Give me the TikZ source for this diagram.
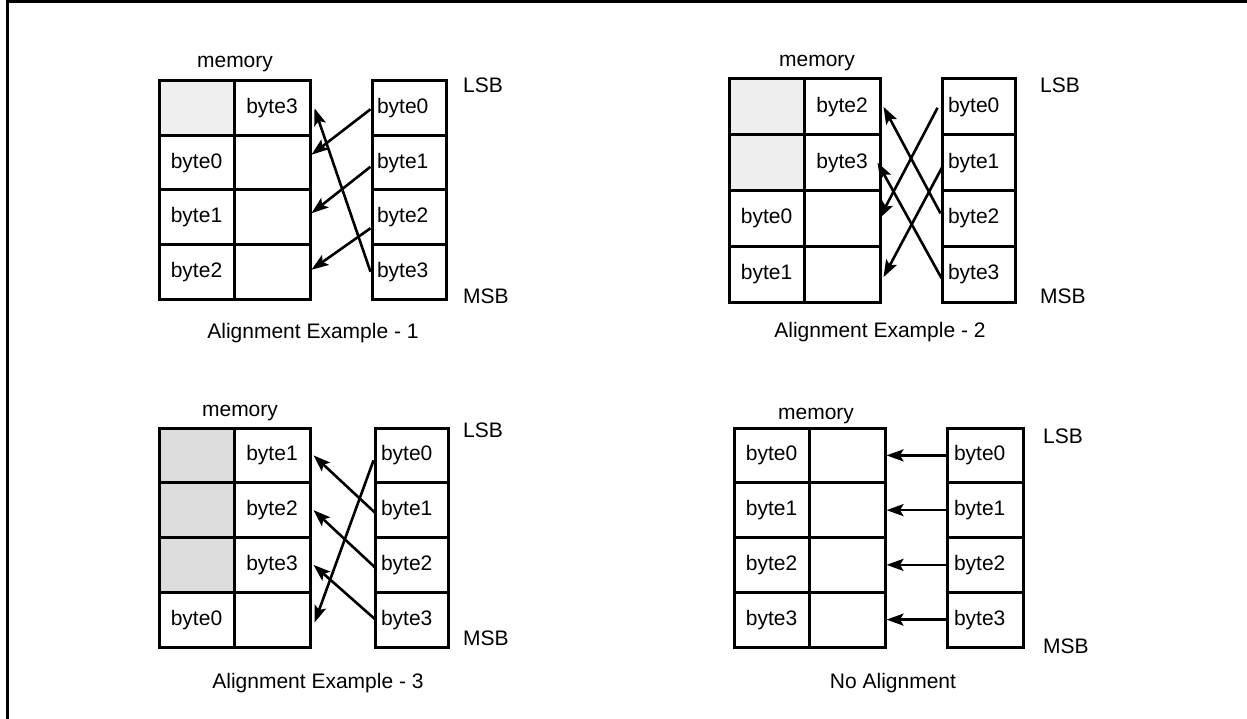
\documentclass[tikz,border=0pt]{standalone}
\usepackage{fontspec}
\setmainfont{Liberation Sans}
\usetikzlibrary{arrows.meta}
\definecolor{shadeA}{HTML}{EFEFEF}
\definecolor{shadeB}{HTML}{EEEEEE}
\definecolor{shadeC}{HTML}{DCDCDC}
\newcommand\fsz{\fontsize{21}{24}\selectfont}
\tikzset{
  cell/.style={draw=black, line width=3pt, inner sep=0pt, font=\fsz},
  rcell/.style={cell, align=left},
  arr/.style={line width=2.6pt, -{Stealth[length=17pt,width=12pt,inset=3.5pt]}},
  lbl/.style={inner sep=0pt, font=\fsz, anchor=base},
  side/.style={inner sep=0pt, font=\fsz, anchor=base west},
  frame/.style={line width=3pt}
}
\begin{document}
\begin{tikzpicture}[x=1pt,y=-1pt]
\useasboundingbox (0,0) rectangle (1247,719);
\draw[frame] (1247,2) -- (7,2) -- (7,719);

% ---------- Quadrant 1 ----------
\foreach \i/\a/\b/\c/\f in {0//byte3/byte0/shadeA,1/byte0//byte1/white,2/byte1//byte2/white,3/byte2//byte3/white}{
  \node[cell, fill=\f, minimum width=75pt, minimum height=54.5pt] (q1a\i) at (196.5,{81+54.5*\i+27.25}) {\a};
  \node[cell, minimum width=76pt, minimum height=54.5pt] (q1b\i) at (272,{81+54.5*\i+27.25}) {\b};
  \node[rcell, text width=64pt, minimum width=74pt, minimum height=54.5pt] (q1r\i) at (409,{81+54.5*\i+27.25}) {\c};
}
\node[lbl] (q1mem) at (235,68) {memory};
\node[side] (q1lsb) at (463,93) {LSB};
\node[side] (q1msb) at (463,303) {MSB};
\node[lbl] (q1cap) at (313,338) {Alignment Example - 1};
\draw[arr] ([yshift=-1pt]q1r0.west) -- ([yshift=8pt]q1b1.east);
\draw[arr] ([yshift=-4pt]q1r1.west) -- ([yshift=4pt]q1b2.east);
\draw[arr] ([yshift=-11pt]q1r2.west) -- ([yshift=2pt]q1b3.east);
\draw[arr] (q1r3.west) -- ([xshift=3pt]q1b0.east);

% ---------- Quadrant 2 ----------
\foreach \i/\a/\b/\c/\f in {0//byte2/byte0/shadeB,1//byte3/byte1/shadeB,2/byte0//byte2/white,3/byte1//byte3/white}{
  \node[cell, fill=\f, minimum width=75pt, minimum height=55.75pt] (q2a\i) at (766.5,{79+55.75*\i+27.875}) {\a};
  \node[cell, minimum width=76pt, minimum height=55.75pt] (q2b\i) at (842,{79+55.75*\i+27.875}) {\b};
  \node[rcell, text width=61pt, minimum width=73pt, minimum height=55.75pt] (q2r\i) at (978.5,{79+55.75*\i+27.875}) {\c};
}
\node[lbl] (q2mem) at (817,67) {memory};
\node[side] (q2lsb) at (1040,93) {LSB};
\node[side] (q2msb) at (1040,303) {MSB};
\node[lbl] (q2cap) at (880,337) {Alignment Example - 2};
\draw[arr] ([xshift=-3pt,yshift=-1pt]q2r0.west) -- ([xshift=-2pt]q2b2.east);
\draw[arr] ([xshift=2pt,yshift=-4pt]q2r1.west) -- ([xshift=2pt,yshift=-3pt]q2b3.east);
\draw[arr] ([yshift=5pt]q2r2.west) -- ([xshift=2pt]q2b0.east);
\draw[arr] ([xshift=1pt,yshift=-4pt]q2r3.west) -- ([xshift=-4pt]q2b1.east);

% ---------- Quadrant 3 ----------
\foreach \i/\a/\b/\c/\f in {0//byte1/byte0/shadeC,1//byte2/byte1/shadeC,2//byte3/byte2/shadeC,3/byte0//byte3/white}{
  \node[cell, fill=\f, minimum width=75pt, minimum height=54.75pt] (q3a\i) at (196.5,{428+54.75*\i+27.375}) {\a};
  \node[cell, minimum width=76pt, minimum height=54.75pt] (q3b\i) at (272,{428+54.75*\i+27.375}) {\b};
  \node[rcell, text width=61pt, minimum width=73pt, minimum height=54.75pt] (q3r\i) at (411.5,{428+54.75*\i+27.375}) {\c};
}
\node[lbl] (q3mem) at (240,416) {memory};
\node[side] (q3lsb) at (463,437) {LSB};
\node[side] (q3msb) at (463,645) {MSB};
\node[lbl] (q3cap) at (318,688) {Alignment Example - 3};
\draw[arr] ([yshift=-5pt]q3r0.west) -- ([xshift=3pt,yshift=-3pt]q3b3.east);
\draw[arr] ([xshift=2pt,yshift=-3pt]q3r1.west) -- ([xshift=2pt]q3b0.east);
\draw[arr] ([xshift=2pt,yshift=-3pt]q3r2.west) -- ([xshift=2pt]q3b1.east);
\draw[arr] ([xshift=2pt]q3r3.west) -- ([xshift=2pt]q3b2.east);

% ---------- Quadrant 4 ----------
\foreach \i/\a/\c in {0/byte0/byte0,1/byte1/byte1,2/byte2/byte2,3/byte3/byte3}{
  \node[cell, minimum width=75pt, minimum height=54.75pt] (q4a\i) at (771.5,{428+54.75*\i+27.375}) {\a};
  \node[cell, minimum width=76pt, minimum height=54.75pt] (q4b\i) at (847,{428+54.75*\i+27.375}) {};
  \node[rcell, text width=62pt, minimum width=76pt, minimum height=54.75pt] (q4r\i) at (985,{428+54.75*\i+27.375}) {\c};
  \draw[arr] (q4r\i.west) -- (q4b\i.east);
}
\node[lbl] (q4mem) at (816,419) {memory};
\node[side] (q4lsb) at (1043,443) {LSB};
\node[side] (q4msb) at (1043,653) {MSB};
\node[lbl] (q4cap) at (893,688) {No Alignment};
\end{tikzpicture}
\end{document}
